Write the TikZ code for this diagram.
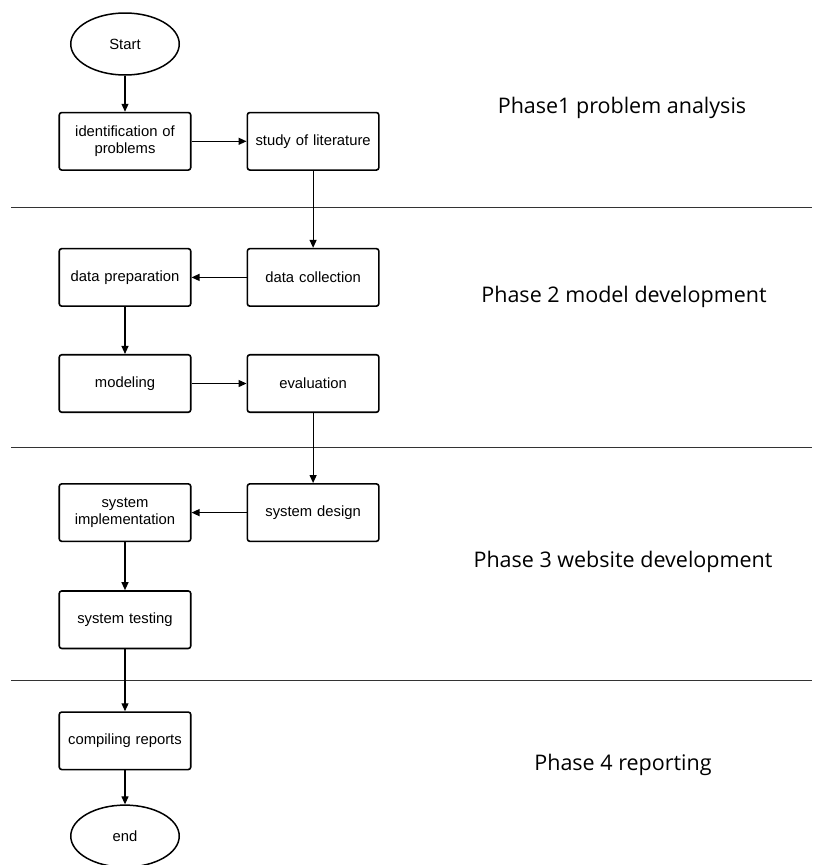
\documentclass[tikz,border=0pt]{standalone}
\usepackage{fontspec}
\setmainfont{Liberation Sans}
\newfontfamily\phasefont{Open Sans}
\usetikzlibrary{arrows.meta, positioning, shapes.geometric}

\begin{document}
\begin{tikzpicture}[
        x=1pt, y=-1pt,
        kotak/.style = {rectangle, draw, line width=1.6pt, rounded corners=2.5pt,
                        minimum width=131.5pt, minimum height=57.5pt,
                        text width=125pt, align=center, inner sep=2pt},
        oval/.style = {ellipse, draw, line width=1.5pt, minimum width=108.5pt,
                       minimum height=62pt, inner sep=0pt},
        pil/.style = {black, line width=1.2pt, -{Triangle[length=8pt,width=7pt]}},
        garis/.style = {black!80, line width=0.9pt},
        fase/.style = {font=\phasefont\fontsize{21.5}{25}\selectfont},
        font=\fontsize{14.8}{17.5}\selectfont
        ]
        \useasboundingbox (0,0) rectangle (812,865);
        \node[oval] (start) at (125,44) {Start};
        \node[kotak] (ident) [below=36pt of start] {identification of\\problems};
        \node[kotak] (study) [right=55pt of ident] {study of literature};
        \node[kotak] (datacol) [below=77pt of study] {data collection};
        \node[kotak] (dataprep) [left=55pt of datacol] {data preparation};
        \node[kotak] (model) [below=47pt of dataprep] {modeling};
        \node[kotak] (eval) [right=55pt of model] {evaluation};
        \node[kotak] (sysdesign) [below=70pt of eval] {system design};
        \node[kotak] (sysimpl) [left=55pt of sysdesign] {system\\implementation};
        \node[kotak] (systest) [below=48pt of sysimpl] {system testing};
        \node[kotak] (report) [below=62pt of systest] {compiling reports};
        \node[oval] (end) [below=34pt of report] {end};

        % phase separators
        \draw[garis] (11,207) -- (812,207);
        \draw[garis] (11,447) -- (812,447);
        \draw[garis] (11,680) -- (812,680);

        \node[fase] (phase1) at (622,108) {Phase1 problem analysis};
        \node[fase] (phase2) at (624,297) {Phase 2 model development};
        \node[fase] (phase3) at (623,562) {Phase 3 website development};
        \node[fase] (phase4) at (623,765) {Phase 4 reporting};

        \draw[pil] (start) edge (ident)
        (ident) edge (study)
        (study) edge (datacol)
        (datacol) edge (dataprep)
        (dataprep) edge (model)
        (model) edge (eval)
        (eval) edge (sysdesign)
        (sysdesign) edge (sysimpl)
        (sysimpl) edge (systest)
        (systest) edge (report)
        (report) edge (end);

      \end{tikzpicture}
\end{document}
